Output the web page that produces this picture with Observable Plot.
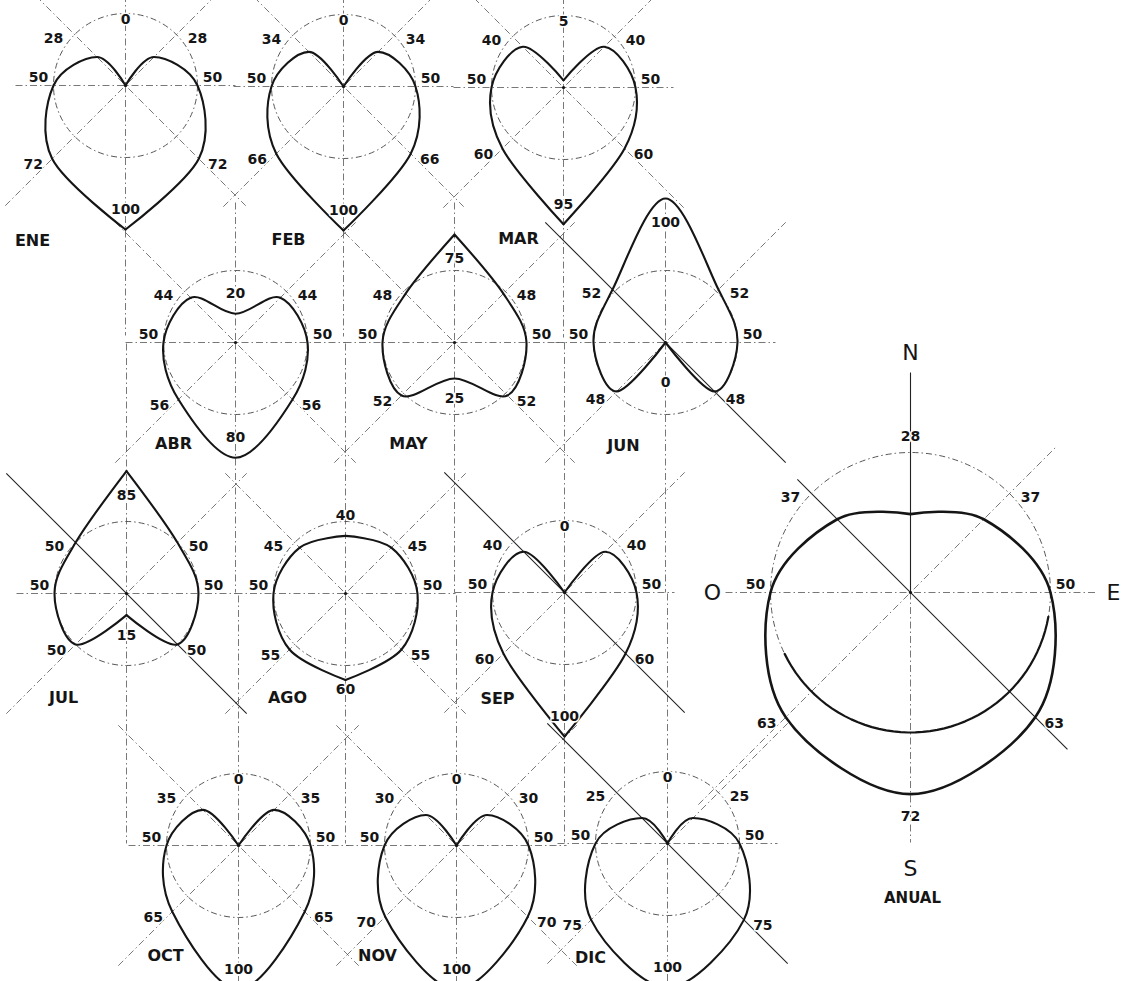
<!DOCTYPE html>
<html>
<head>
<meta charset="utf-8">
<script src="https://cdn.jsdelivr.net/npm/d3@7"></script>
<script src="https://cdn.jsdelivr.net/npm/@observablehq/plot@0.6"></script>
<style>
  html, body { margin: 0; padding: 0; background: #fff; overflow: hidden; }
  #chart svg { display: block; }
</style>
</head>
<body>
<div id="chart"></div>
<script>
// ---------- DATA ----------
const directions = ["N", "NE", "E", "SE", "S", "SW", "W", "NW"];
const bearings = [0, 45, 90, 135, 180, 225, 270, 315];
const months = ["ENE", "FEB", "MAR", "ABR", "MAY", "JUN", "JUL", "AGO", "SEP", "OCT", "NOV", "DIC"];
const ene = [0, 28, 50, 72, 100, 72, 50, 28];
const feb = [0, 34, 50, 66, 100, 66, 50, 34];
const mar = [5, 40, 50, 60, 95, 60, 50, 40];
const abr = [20, 44, 50, 56, 80, 56, 50, 44];
const may = [75, 48, 50, 52, 25, 52, 50, 48];
const jun = [100, 52, 50, 48, 0, 48, 50, 52];
const jul = [85, 50, 50, 50, 15, 50, 50, 50];
const ago = [40, 45, 50, 55, 60, 55, 50, 45];
const sep = [0, 40, 50, 60, 100, 60, 50, 40];
const oct = [0, 35, 50, 65, 100, 65, 50, 35];
const nov = [0, 30, 50, 70, 100, 70, 50, 30];
const dic = [0, 25, 50, 75, 100, 75, 50, 25];
const anual = [28, 37, 50, 63, 72, 63, 50, 37];
const annualName = "ANUAL";
const compassLetters = ["N", "E", "S", "O"];
const referenceValue = 50;
const monthValues = [ene, feb, mar, abr, may, jun, jul, ago, sep, oct, nov, dic];

// ---------- LAYOUT (positions / styles) ----------
const monthLayout = [
  {cx: 125, cy: 85,  nameDx: -93, nameDy: 155, up: 250, cusps: [0, 4], solid: false},
  {cx: 343, cy: 86,  nameDx: -55, nameDy: 153, up: 250, cusps: [0, 4], solid: false},
  {cx: 563, cy: 87,  nameDx: -45, nameDy: 151, up: 250, cusps: [0, 4], solid: false},
  {cx: 235, cy: 342, nameDx: -62, nameDy: 101, up: 140, cusps: [],     solid: false},
  {cx: 454, cy: 342, nameDx: -46, nameDy: 101, up: 140, cusps: [0],    solid: false},
  {cx: 665, cy: 342, nameDx: -42, nameDy: 103, up: 140, cusps: [4],    solid: true},
  {cx: 126, cy: 593, nameDx: -63, nameDy: 104, up: 250, cusps: [0, 4], solid: true},
  {cx: 345, cy: 593, nameDx: -58, nameDy: 104, up: 250, cusps: [0, 4], solid: false},
  {cx: 564, cy: 592, nameDx: -67, nameDy: 106, up: 250, cusps: [0, 4], solid: true},
  {cx: 238, cy: 845, nameDx: -73, nameDy: 110, up: 250, cusps: [0],    solid: false},
  {cx: 456, cy: 845, nameDx: -79, nameDy: 110, up: 250, cusps: [0],    solid: false},
  {cx: 667, cy: 843, nameDx: -77, nameDy: 114, up: 250, cusps: [0],    solid: true}
];
const monthK = 1.44;
const annualLayout = {cx: 910, cy: 592, k: 2.8, cusps: [0], solid: true,
  up: 220, down: 250, horiz: 185, diagNE: 205, diagSW: 300, diagNW: 160, diagSE: 222, nameDy: 306};

const panels = months.map((name, i) => ({
  name, values: monthValues[i], k: monthK, annual: false,
  down: 250, horiz: 110, diagNE: 170, diagSW: 170, diagNW: 170, diagSE: 170, ...monthLayout[i]
}));
panels.push({name: annualName, values: anual, annual: true, ...annualLayout});

const rad = (b) => b * Math.PI / 180;
function pt(p, i, v) {
  const b = rad(bearings[i]);
  return [p.cx + v * p.k * Math.sin(b), p.cy - v * p.k * Math.cos(b)];
}

// ---------- curves ----------
const openRows = [], closedRows = [];
panels.forEach(p => {
  const c = p.cusps;
  const w = p.annual ? 2.6 : 2.1;
  if (!c.length) {
    p.values.forEach((v, i) => { const [x, y] = pt(p, i, v); closedRows.push({seg: p.name, x, y, w}); });
    return;
  }
  c.forEach((a, j) => {
    const b = j + 1 < c.length ? c[j + 1] : c[0] + 8;
    for (let t = a; t <= b; t++) {
      const i = t % 8;
      const [x, y] = pt(p, i, p.values[i]);
      openRows.push({seg: p.name + "-" + j, x, y, w});
    }
  });
});

// ---------- axis lines ----------
const lineRows = [];
panels.forEach(p => {
  const {cx, cy} = p;
  const s = Math.SQRT1_2;
  lineRows.push({x1: cx, y1: cy - p.up, x2: cx, y2: cy, solid: p.annual});
  lineRows.push({x1: cx, y1: cy, x2: cx, y2: cy + p.down, solid: false});
  lineRows.push({x1: cx - p.horiz, y1: cy, x2: cx + p.horiz, y2: cy, solid: false});
  lineRows.push({x1: cx - p.diagSW * s, y1: cy + p.diagSW * s, x2: cx + p.diagNE * s, y2: cy - p.diagNE * s, solid: false});
  lineRows.push({x1: cx - p.diagNW * s, y1: cy - p.diagNW * s, x2: cx + p.diagSE * s, y2: cy + p.diagSE * s, solid: p.solid});
});

// ---------- reference circles ----------
const circleRows = panels.map(p => ({cx: p.cx, cy: p.cy, r: referenceValue * p.k}));
const ap = panels[panels.length - 1];
const arcRows = d3.range(100, 246, 3).map(b => ({
  x: ap.cx + referenceValue * ap.k * Math.sin(rad(b)),
  y: ap.cy - referenceValue * ap.k * Math.cos(rad(b))
}));

// ---------- value labels ----------
function labelPos(p, i) {
  const v = p.values[i], R = referenceValue * p.k, r = v * p.k;
  const b = rad(bearings[i]), s = Math.sin(b), c = Math.cos(b);
  if (i === 0) {
    const d = p.annual ? Math.max(r, R) + 16 : (v >= 60 ? r - 24 : v <= 10 ? R - 6 : r + 20);
    return [p.cx, p.cy - d];
  }
  if (i === 4) {
    const d = p.annual ? Math.max(r, R) + 22 : (v >= 80 ? r - 20 : v >= 60 ? r + 10 : Math.max(r + 20, 40));
    return [p.cx, p.cy + d];
  }
  if (i === 2 || i === 6) {
    const d = Math.max(r, R) + 15;
    return [p.cx + Math.sign(s) * d, p.cy - 8];
  }
  const d = Math.max(r, R);
  if (i === 1 || i === 7) return [p.cx + s * d + Math.sign(s) * 21, p.cy - c * d + 4];
  return [p.cx + s * d + Math.sign(s) * 19, p.cy - c * d + 6];
}
const labelRows = [];
panels.forEach(p => p.values.forEach((v, i) => {
  const [x, y] = labelPos(p, i);
  labelRows.push({x, y, text: String(v), dir: directions[i]});
}));

const nameRows = panels.filter(p => !p.annual).map(p => ({x: p.cx + p.nameDx, y: p.cy + p.nameDy, text: p.name}));
const compassRows = [
  {text: compassLetters[0], x: ap.cx, y: ap.cy - 240},
  {text: compassLetters[1], x: ap.cx + 203, y: ap.cy},
  {text: compassLetters[2], x: ap.cx, y: ap.cy + 276},
  {text: compassLetters[3], x: ap.cx - 198, y: ap.cy}
];
const annualNameRow = [{text: annualName, x: ap.cx + 2, y: ap.cy + ap.nameDy}];

const ink = "#151515";
const dash = "7,3,1.5,3";

const chart = Plot.plot({
  width: 1123,
  height: 981,
  margin: 0,
  x: {domain: [0, 1123], range: [0, 1123], axis: null},
  y: {domain: [0, 981], range: [0, 981], axis: null},
  r: {type: "identity"},
  style: {background: "#fff"},
  marks: [
    Plot.link(lineRows.filter(d => !d.solid), {x1: "x1", y1: "y1", x2: "x2", y2: "y2",
      stroke: "#555", strokeWidth: 0.8, strokeDasharray: dash, clip: true}),
    Plot.link(lineRows.filter(d => d.solid), {x1: "x1", y1: "y1", x2: "x2", y2: "y2",
      stroke: "#222", strokeWidth: 1.1, clip: true}),
    Plot.dot(circleRows, {x: "cx", y: "cy", r: "r", fill: "none", stroke: "#444",
      strokeWidth: 0.9, strokeDasharray: "6,3,1.5,3"}),
    Plot.line(arcRows, {x: "x", y: "y", stroke: ink, strokeWidth: 2.2, curve: "linear"}),
    Plot.dot(circleRows, {x: "cx", y: "cy", r: 1.6, fill: ink}),
    Plot.line(openRows, {x: "x", y: "y", z: "seg", stroke: ink, strokeWidth: "w",
      curve: "cardinal", tension: 0}),
    Plot.line(closedRows, {x: "x", y: "y", z: "seg", stroke: ink, strokeWidth: "w",
      curve: "cardinal-closed", tension: 0}),
    Plot.text(labelRows, {x: "x", y: "y", text: "text", fill: ink, fontSize: 14,
      fontWeight: "bold", fontFamily: "DejaVu Sans", stroke: "white", strokeWidth: 3, paintOrder: "stroke"}),
    Plot.text(nameRows, {x: "x", y: "y", text: "text", fill: ink, fontSize: 16,
      fontWeight: "bold", fontFamily: "DejaVu Sans", letterSpacing: "3px", stroke: "white", strokeWidth: 3, paintOrder: "stroke"}),
    Plot.text(compassRows, {x: "x", y: "y", text: "text", fill: ink, fontSize: 22,
      fontFamily: "DejaVu Sans", stroke: "white", strokeWidth: 4, paintOrder: "stroke"}),
    Plot.text(annualNameRow, {x: "x", y: "y", text: "text", fill: ink, fontSize: 15,
      fontWeight: "bold", fontFamily: "DejaVu Sans", letterSpacing: "4px"})
  ]
});
document.getElementById("chart").appendChild(chart);
</script>
</body>
</html>
